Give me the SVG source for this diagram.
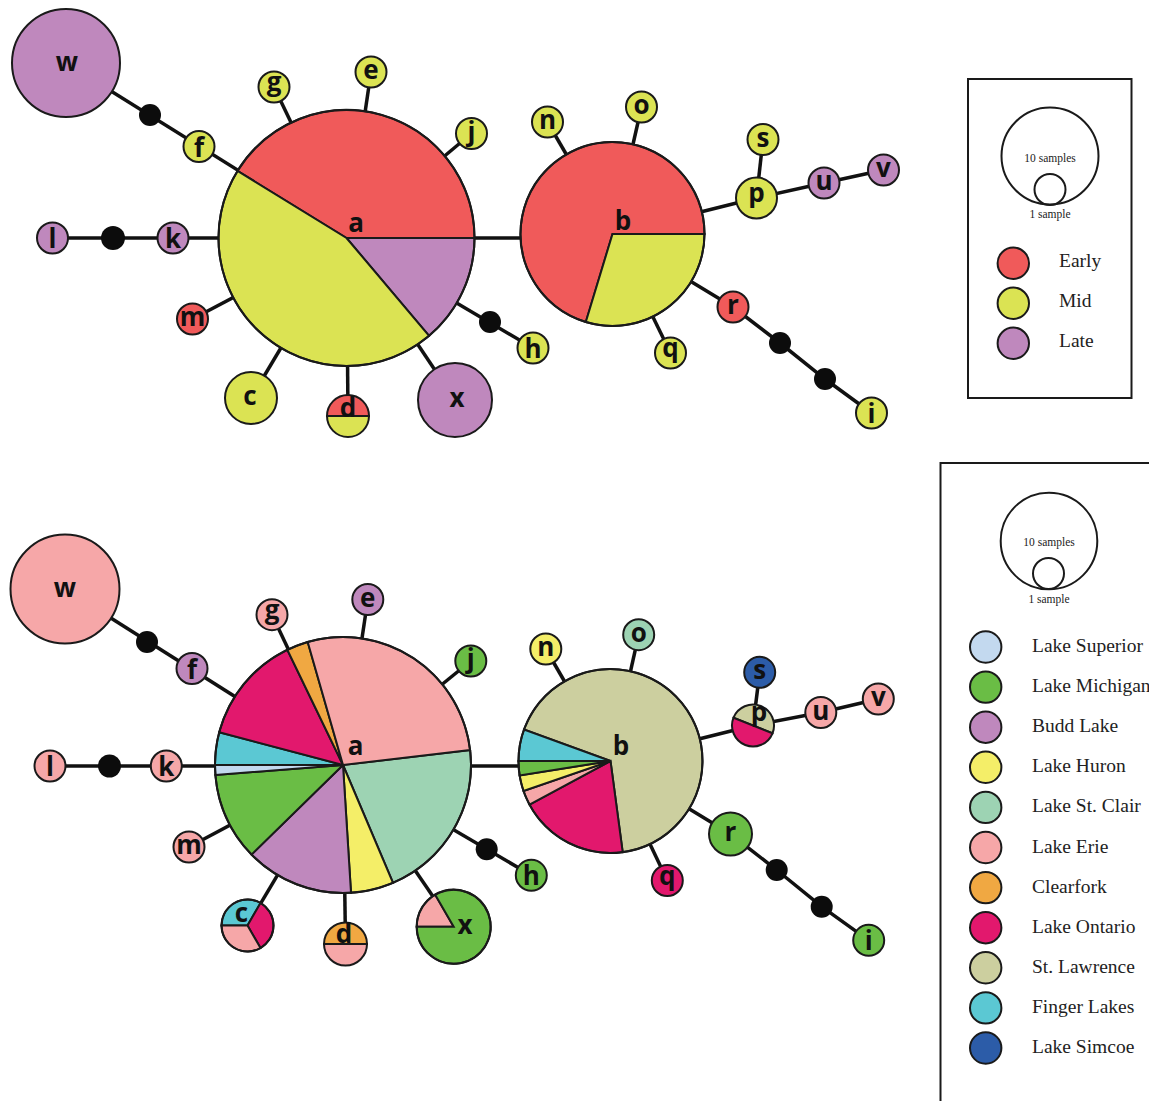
<svg xmlns="http://www.w3.org/2000/svg" width="1149" height="1101" viewBox="0 0 1149 1101">
<style>
.bg{fill:#ffffff}
.edge{fill:none;stroke:#111;stroke-width:3.5}
.nd{stroke:#1a1a1a;stroke-width:2}
.ring{fill:none;stroke:#1a1a1a;stroke-width:2}
.dot{fill:#0c0c0c}
.lbl{font-family:"Open Sans","DejaVu Sans",sans-serif;font-weight:700;font-size:26px;text-anchor:middle;fill:#111}
.leg{font-family:"Liberation Serif","Times New Roman",serif;font-size:19.5px;fill:#222}
.legs{font-family:"Liberation Serif","Times New Roman",serif;font-size:11.5px;fill:#222;text-anchor:middle}
.box{fill:none;stroke:#1a1a1a;stroke-width:2}
.early{fill:#F05A5A}.mid{fill:#DBE353}.late{fill:#BF88BD}
.sup{fill:#C3D9EF}.mich{fill:#6ABD45}.budd{fill:#BF88BD}.huron{fill:#F4EE68}.stc{fill:#9DD3B3}.erie{fill:#F6A7A8}.clf{fill:#F0A842}.ont{fill:#E2186D}.stl{fill:#CCCF9F}.fing{fill:#5BC8D3}.sim{fill:#2C5CA8}
</style>
<rect class="bg" x="0" y="0" width="1149" height="1101"/>

<!-- ============ TOP NETWORK ============ -->
<g id="top-connectors">
<path class="edge" d="M66,63 L346.5,238"/>
<path class="edge" d="M274,87 L346.5,238"/>
<path class="edge" d="M371,72 L346.5,238"/>
<path class="edge" d="M471.5,133.5 L346.5,238"/>
<path class="edge" d="M52.5,238 L346.5,238"/>
<path class="edge" d="M192.5,319 L346.5,238"/>
<path class="edge" d="M251,398 L346.5,238"/>
<path class="edge" d="M348,416 L346.5,238"/>
<path class="edge" d="M455,400 L346.5,238"/>
<path class="edge" d="M533,348 L346.5,238"/>
<path class="edge" d="M346.5,238 L612.5,238"/>
<path class="edge" d="M547.5,122 L612.5,234"/>
<path class="edge" d="M641.5,107 L612.5,234"/>
<path class="edge" d="M612.5,234 L756.5,198 L824,183 L883.5,170"/>
<path class="edge" d="M763,139.5 L756.5,198"/>
<path class="edge" d="M612.5,234 L733,307 L780,343 L825,379 L871.5,413"/>
<path class="edge" d="M670.5,353 L612.5,234"/>
</g>

<g id="top-a">
<path class="nd early" d="M346.5,238 L237.5,170.9 A128,128 0 0 1 474.5,238 Z"/>
<path class="nd late" d="M346.5,238 L474.5,238 A128,128 0 0 1 429.1,335.8 Z"/>
<path class="nd mid" d="M346.5,238 L429.1,335.8 A128,128 0 0 1 237.5,170.9 Z"/>
<circle class="ring" cx="346.5" cy="238" r="128"/>
<text class="lbl" x="356" y="232">a</text>
</g>
<g id="top-b">
<path class="nd early" d="M612.5,234 L585.8,322 A92,92 0 1 1 704.5,234 Z"/>
<path class="nd mid" d="M612.5,234 L704.5,234 A92,92 0 0 1 585.8,322 Z"/>
<circle class="ring" cx="612.5" cy="234" r="92"/>
<text class="lbl" x="623" y="230">b</text>
</g>
<g id="top-w"><circle class="nd late" cx="66" cy="63" r="54"/><text class="lbl" x="67" y="71">w</text></g>
<g id="top-mv1"><circle class="dot" cx="150" cy="115" r="11"/></g>
<g id="top-f"><circle class="nd mid" cx="199" cy="146.5" r="15.5"/><text class="lbl" x="199" y="156.5">f</text></g>
<g id="top-g"><circle class="nd mid" cx="274" cy="87" r="15.5"/><text class="lbl" x="274" y="91">g</text></g>
<g id="top-e"><circle class="nd mid" cx="371" cy="72" r="15.5"/><text class="lbl" x="371" y="79">e</text></g>
<g id="top-j"><circle class="nd mid" cx="471.5" cy="133.5" r="15.5"/><text class="lbl" x="471.5" y="140.5">j</text></g>
<g id="top-l"><circle class="nd late" cx="52.5" cy="238" r="15.5"/><text class="lbl" x="52.5" y="248">l</text></g>
<g id="top-mv2"><circle class="dot" cx="113" cy="238" r="12"/></g>
<g id="top-k"><circle class="nd late" cx="173" cy="238" r="15.5"/><text class="lbl" x="173" y="248">k</text></g>
<g id="top-m"><circle class="nd early" cx="192.5" cy="319" r="15.5"/><text class="lbl" x="192.5" y="326">m</text></g>
<g id="top-c"><circle class="nd mid" cx="251" cy="398" r="26"/><text class="lbl" x="250" y="405">c</text></g>
<g id="top-d">
<path class="nd early" d="M327,416 A21,21 0 0 1 369,416 Z"/>
<path class="nd mid" d="M369,416 A21,21 0 0 1 327,416 Z"/>
<text class="lbl" x="348" y="417">d</text>
</g>
<g id="top-x"><circle class="nd late" cx="455" cy="400" r="37"/><text class="lbl" x="457" y="407">x</text></g>
<g id="top-mv3"><circle class="dot" cx="490" cy="322" r="11"/></g>
<g id="top-h"><circle class="nd mid" cx="533" cy="348" r="15.5"/><text class="lbl" x="533" y="358">h</text></g>
<g id="top-n"><circle class="nd mid" cx="547.5" cy="122" r="15.5"/><text class="lbl" x="547.5" y="129">n</text></g>
<g id="top-o"><circle class="nd mid" cx="641.5" cy="107" r="15.5"/><text class="lbl" x="641.5" y="114">o</text></g>
<g id="top-s"><circle class="nd mid" cx="763" cy="139.5" r="15.5"/><text class="lbl" x="763" y="146.5">s</text></g>
<g id="top-p"><circle class="nd mid" cx="756.5" cy="198" r="20.5"/><text class="lbl" x="756.5" y="202">p</text></g>
<g id="top-u"><circle class="nd late" cx="824" cy="183" r="15.5"/><text class="lbl" x="824" y="190">u</text></g>
<g id="top-v"><circle class="nd late" cx="883.5" cy="170" r="15.5"/><text class="lbl" x="883.5" y="177">v</text></g>
<g id="top-r"><circle class="nd early" cx="733" cy="307" r="15.5"/><text class="lbl" x="733" y="314">r</text></g>
<g id="top-mv4"><circle class="dot" cx="780" cy="343" r="11"/></g>
<g id="top-mv5"><circle class="dot" cx="825" cy="379" r="11"/></g>
<g id="top-i"><circle class="nd mid" cx="871.5" cy="413" r="15.5"/><text class="lbl" x="871.5" y="423">i</text></g>
<g id="top-q"><circle class="nd mid" cx="670.5" cy="353" r="15.5"/><text class="lbl" x="670.5" y="357">q</text></g>

<g id="top-legend">
<rect class="box" x="968" y="79" width="163.5" height="319"/>
<circle class="ring" cx="1050" cy="156" r="48.5"/>
<circle class="ring" cx="1050" cy="189.5" r="15.5"/>
<text class="legs" x="1050" y="161.5">10 samples</text>
<text class="legs" x="1050" y="218">1 sample</text>
<circle class="nd early" cx="1013.3" cy="263.3" r="15.7"/>
<circle class="nd mid" cx="1013.3" cy="303.3" r="15.7"/>
<circle class="nd late" cx="1013.3" cy="343.3" r="15.7"/>
<text class="leg" x="1059" y="267">Early</text>
<text class="leg" x="1059" y="307">Mid</text>
<text class="leg" x="1059" y="347">Late</text>
</g>

<!-- ============ BOTTOM NETWORK ============ -->
<g id="bottom-connectors">
<path class="edge" d="M65,589 L343,765"/>
<path class="edge" d="M272,614.7 L343,765"/>
<path class="edge" d="M367.8,599.5 L343,765"/>
<path class="edge" d="M470.8,661 L343,765"/>
<path class="edge" d="M50,766 L343,766"/>
<path class="edge" d="M189,847 L343,765"/>
<path class="edge" d="M247.5,925.5 L343,765"/>
<path class="edge" d="M345.5,944 L343,765"/>
<path class="edge" d="M453.7,926.7 L343,765"/>
<path class="edge" d="M531.3,875.3 L343,765"/>
<path class="edge" d="M343,766 L610.5,766"/>
<path class="edge" d="M545.8,649 L610.5,761"/>
<path class="edge" d="M638.7,634.7 L610.5,761"/>
<path class="edge" d="M610.5,761 L753,725.5 L820.8,712.5 L878.3,699"/>
<path class="edge" d="M759.7,672.3 L753,725.5"/>
<path class="edge" d="M610.5,761 L730.5,834 L776.7,870 L821.7,906.7 L868.7,940.3"/>
<path class="edge" d="M667.3,880.5 L610.5,761"/>
</g>

<g id="bot-a">
<path class="nd stc" d="M343,765 L470.1,750.1 A128,128 0 0 1 393,882.8 Z"/>
<path class="nd huron" d="M343,765 L393,882.8 A128,128 0 0 1 351,892.7 Z"/>
<path class="nd budd" d="M343,765 L351,892.7 A128,128 0 0 1 251.5,854.6 Z"/>
<path class="nd mich" d="M343,765 L251.5,854.6 A128,128 0 0 1 215.4,775 Z"/>
<path class="nd sup" d="M343,765 L215.4,775 A128,128 0 0 1 215,765 Z"/>
<path class="nd fing" d="M343,765 L215,765 A128,128 0 0 1 219.2,732.3 Z"/>
<path class="nd ont" d="M343,765 L219.2,732.3 A128,128 0 0 1 287.3,649.8 Z"/>
<path class="nd clf" d="M343,765 L287.3,649.8 A128,128 0 0 1 307.7,642 Z"/>
<path class="nd erie" d="M343,765 L307.7,642 A128,128 0 0 1 470.1,750.1 Z"/>
<circle class="ring" cx="343" cy="765" r="128"/>
<text class="lbl" x="355.5" y="755">a</text>
</g>
<g id="bot-b">
<path class="nd stl" d="M610.5,761 L524,729.5 A92,92 0 1 1 622.7,852.2 Z"/>
<path class="nd ont" d="M610.5,761 L622.7,852.2 A92,92 0 0 1 529.5,804.6 Z"/>
<path class="nd erie" d="M610.5,761 L529.5,804.6 A92,92 0 0 1 523.5,791 Z"/>
<path class="nd huron" d="M610.5,761 L523.5,791 A92,92 0 0 1 519.6,775.4 Z"/>
<path class="nd mich" d="M610.5,761 L519.6,775.4 A92,92 0 0 1 518.5,761 Z"/>
<path class="nd fing" d="M610.5,761 L518.5,761 A92,92 0 0 1 524,729.5 Z"/>
<circle class="ring" cx="610.5" cy="761" r="92"/>
<text class="lbl" x="621" y="755">b</text>
</g>
<g id="bot-w"><circle class="nd erie" cx="65" cy="589" r="54.5"/><text class="lbl" x="65" y="597">w</text></g>
<g id="bot-mv1"><circle class="dot" cx="147" cy="642" r="11"/></g>
<g id="bot-f"><circle class="nd budd" cx="192" cy="668.5" r="15.5"/><text class="lbl" x="192" y="678.5">f</text></g>
<g id="bot-g"><circle class="nd erie" cx="272" cy="614.7" r="15.5"/><text class="lbl" x="272" y="618.7">g</text></g>
<g id="bot-e"><circle class="nd budd" cx="367.8" cy="599.5" r="15.5"/><text class="lbl" x="367.8" y="606.5">e</text></g>
<g id="bot-j"><circle class="nd mich" cx="470.8" cy="661" r="15.5"/><text class="lbl" x="470.8" y="668">j</text></g>
<g id="bot-l"><circle class="nd erie" cx="50" cy="766" r="15.5"/><text class="lbl" x="50" y="776">l</text></g>
<g id="bot-mv2"><circle class="dot" cx="109.5" cy="766" r="11.5"/></g>
<g id="bot-k"><circle class="nd erie" cx="166.3" cy="766" r="15.5"/><text class="lbl" x="166.3" y="776">k</text></g>
<g id="bot-m"><circle class="nd erie" cx="189" cy="847" r="15.5"/><text class="lbl" x="189" y="854">m</text></g>
<g id="bot-c">
<path class="nd fing" d="M247.5,925.5 L221.5,925.5 A26,26 0 0 1 260.5,903 Z"/>
<path class="nd ont" d="M247.5,925.5 L260.5,903 A26,26 0 0 1 260.5,948 Z"/>
<path class="nd erie" d="M247.5,925.5 L260.5,948 A26,26 0 0 1 221.5,925.5 Z"/>
<circle class="ring" cx="247.5" cy="925.5" r="26"/>
<text class="lbl" x="241.5" y="922">c</text>
</g>
<g id="bot-d">
<path class="nd clf" d="M324,944 A21.5,21.5 0 0 1 367,944 Z"/>
<path class="nd erie" d="M367,944 A21.5,21.5 0 0 1 324,944 Z"/>
<text class="lbl" x="344" y="943">d</text>
</g>
<g id="bot-x">
<path class="nd erie" d="M453.7,926.7 L416.7,926.7 A37,37 0 0 1 435.2,894.7 Z"/>
<path class="nd mich" d="M453.7,926.7 L435.2,894.7 A37,37 0 1 1 416.7,926.7 Z"/>
<circle class="ring" cx="453.7" cy="926.7" r="37"/>
<text class="lbl" x="465" y="934">x</text>
</g>
<g id="bot-mv3"><circle class="dot" cx="486.7" cy="849.3" r="11"/></g>
<g id="bot-h"><circle class="nd mich" cx="531.3" cy="875.3" r="15.5"/><text class="lbl" x="531.3" y="885.3">h</text></g>
<g id="bot-n"><circle class="nd huron" cx="545.8" cy="649" r="15.5"/><text class="lbl" x="545.8" y="656">n</text></g>
<g id="bot-o"><circle class="nd stc" cx="638.7" cy="634.7" r="15.5"/><text class="lbl" x="638.7" y="641.7">o</text></g>
<g id="bot-s"><circle class="nd sim" cx="759.7" cy="672.3" r="15.5"/><text class="lbl" x="759.7" y="679.3">s</text></g>
<g id="bot-p">
<path class="nd stl" d="M733.5,717.7 A21,21 0 0 1 772.5,733.3 Z"/>
<path class="nd ont" d="M772.5,733.3 A21,21 0 0 1 733.5,717.7 Z"/>
<text class="lbl" x="759" y="721">p</text>
</g>
<g id="bot-u"><circle class="nd erie" cx="820.8" cy="712.5" r="15.5"/><text class="lbl" x="820.8" y="719.5">u</text></g>
<g id="bot-v"><circle class="nd erie" cx="878.3" cy="699" r="15.5"/><text class="lbl" x="878.3" y="706">v</text></g>
<g id="bot-r"><circle class="nd mich" cx="730.5" cy="834" r="21.5"/><text class="lbl" x="730.5" y="841">r</text></g>
<g id="bot-mv4"><circle class="dot" cx="776.7" cy="870" r="11"/></g>
<g id="bot-mv5"><circle class="dot" cx="821.7" cy="906.7" r="11"/></g>
<g id="bot-i"><circle class="nd mich" cx="868.7" cy="940.3" r="15.5"/><text class="lbl" x="868.7" y="950.3">i</text></g>
<g id="bot-q"><circle class="nd ont" cx="667.3" cy="880.5" r="15.5"/><text class="lbl" x="667.3" y="884.5">q</text></g>

<g id="bottom-legend">
<rect class="box" x="940.5" y="463" width="220" height="660"/>
<circle class="ring" cx="1049" cy="541" r="48.3"/>
<circle class="ring" cx="1048.5" cy="573.5" r="15.5"/>
<text class="legs" x="1049" y="546">10 samples</text>
<text class="legs" x="1049" y="603">1 sample</text>
<circle class="nd sup" cx="985.7" cy="647" r="15.7"/>
<circle class="nd mich" cx="985.7" cy="687.1" r="15.7"/>
<circle class="nd budd" cx="985.7" cy="727.2" r="15.7"/>
<circle class="nd huron" cx="985.7" cy="767.3" r="15.7"/>
<circle class="nd stc" cx="985.7" cy="807.4" r="15.7"/>
<circle class="nd erie" cx="985.7" cy="847.5" r="15.7"/>
<circle class="nd clf" cx="985.7" cy="887.6" r="15.7"/>
<circle class="nd ont" cx="985.7" cy="927.7" r="15.7"/>
<circle class="nd stl" cx="985.7" cy="967.8" r="15.7"/>
<circle class="nd fing" cx="985.7" cy="1007.9" r="15.7"/>
<circle class="nd sim" cx="985.7" cy="1048" r="15.7"/>
<text class="leg" x="1032" y="652">Lake Superior</text>
<text class="leg" x="1032" y="692.1">Lake Michigan</text>
<text class="leg" x="1032" y="732.2">Budd Lake</text>
<text class="leg" x="1032" y="772.3">Lake Huron</text>
<text class="leg" x="1032" y="812.4">Lake St. Clair</text>
<text class="leg" x="1032" y="852.5">Lake Erie</text>
<text class="leg" x="1032" y="892.6">Clearfork</text>
<text class="leg" x="1032" y="932.7">Lake Ontario</text>
<text class="leg" x="1032" y="972.8">St. Lawrence</text>
<text class="leg" x="1032" y="1012.9">Finger Lakes</text>
<text class="leg" x="1032" y="1053">Lake Simcoe</text>
</g>
</svg>
